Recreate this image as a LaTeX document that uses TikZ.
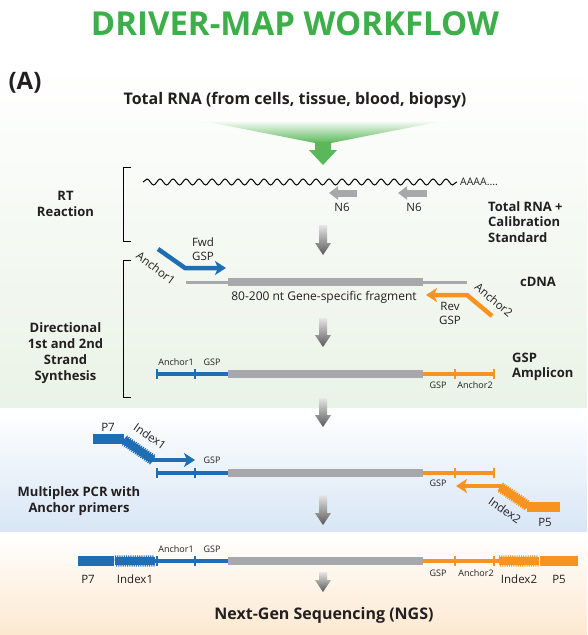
\documentclass[tikz,border=0pt]{standalone}
\usepackage{fontspec}
\setmainfont{Open Sans}
\usetikzlibrary{arrows.meta,decorations.pathmorphing,positioning}

\definecolor{titlegreen}{HTML}{3DAE49}
\definecolor{arrowgreen}{HTML}{5BB85A}
\definecolor{dnablue}{HTML}{1F6EB4}
\definecolor{dnaorange}{HTML}{F7931E}
\definecolor{genegray}{HTML}{A6A8AB}
\definecolor{greenbg}{HTML}{EAF3E7}
\definecolor{bluebg}{HTML}{D8E6F5}
\definecolor{orangebg}{HTML}{FCE8D0}
\definecolor{textdark}{HTML}{231F20}

\begin{document}
\begin{tikzpicture}[x=1pt,y=-1pt,
  every node/.style={text=textdark, inner sep=0pt},
  stage/.style={font=\bfseries\fontsize{13}{16}\selectfont, align=center},
  side/.style={font=\bfseries\fontsize{13}{15.5}\selectfont, align=left, anchor=west},
  tiny/.style={font=\fontsize{9}{10}\selectfont},
  lbl/.style={font=\fontsize{11.5}{14.5}\selectfont, align=center},
  big/.style={font=\fontsize{11.5}{13}\selectfont},
  strand/.style={line width=3.5pt},
  tickmark/.style={line width=1.8pt},
  gene/.style={genegray, line width=8pt},
  primer/.style={line width=4.5pt, -{Stealth[length=11pt,width=14pt,inset=3pt]}},
  adapter/.style={line width=10pt},
  index/.style={line width=8pt, postaction={draw, line width=0.9pt, decorate,
    decoration={zigzag, segment length=2.2pt, amplitude=5.5pt}}},
]
  \useasboundingbox (0,0) rectangle (587,635);
  \fill[white] (0,0) rectangle (587,635);

  % Panels
  \shade[top color=white, bottom color=greenbg] (0,62) rectangle (587,407);
  \shade[top color=white, bottom color=bluebg] (0,409) rectangle (587,531);
  \shade[top color=white, bottom color=orangebg] (0,534) rectangle (587,635);

  % Headings
  \node[font=\bfseries\fontsize{33}{36}\selectfont, text=titlegreen] (title) at (295,23.5) {DRIVER-MAP WORKFLOW};
  \node[font=\bfseries\fontsize{24}{26}\selectfont] (panel) at (25,83) {(A)};
  \node[font=\bfseries\fontsize{16}{18}\selectfont] (input) at (295,100) {Total RNA (from cells, tissue, blood, biopsy)};

  % Green funnel into the workflow
  \shade[top color=white, bottom color=arrowgreen]
    (198,120) -- (448,120) -- (331,143) -- (315,143) -- cycle;
  \fill[arrowgreen] (315,142) -- (331,142) -- (331,150) -- (337,150)
    -- (323,165) -- (309,150) -- (315,150) -- cycle;

  % Step arrows
  \foreach \ytop/\len in {225/30, 318/29, 398/29, 495/30, 572/20}
    \shade[top color=gray!20, bottom color=black!65]
      (319,\ytop) -- (327,\ytop) -- (327,\ytop+\len-12) -- (331,\ytop+\len-12)
      -- (323,\ytop+\len) -- (315,\ytop+\len-12) -- (319,\ytop+\len-12) -- cycle;

  % Brackets
  \draw[line width=0.8pt] (131,167) -- (123,167) -- (123,241) -- (131,241);
  \draw[line width=0.8pt] (131,260) -- (123,260) -- (123,397) -- (131,397);

  % RT reaction: RNA with random hexamers
  \node[stage] (rt) at (65.5,204) {RT\\Reaction};
  \draw[decorate, decoration={snake, segment length=13pt, amplitude=3pt}, line width=1pt]
    (143,182) -- (457,182);
  \node[font=\fontsize{10.5}{12}\selectfont, anchor=west] (polya) at (460,182) {AAAA....};
  \draw[genegray, line width=7pt, -{Triangle[length=9pt,width=13pt]}] (357,193) -- (329,193);
  \draw[genegray, line width=7pt, -{Triangle[length=9pt,width=13pt]}] (427,193) -- (398,193);
  \node[lbl] (n6a) at (342,207.5) {N6};
  \node[lbl] (n6b) at (414,207.5) {N6};
  \node[side] (rna) at (488,222) {Total RNA +\\Calibration\\Standard};

  % cDNA with gene-specific primers
  \draw[genegray, line width=3pt] (186,282) -- (467,282);
  \draw[gene] (228,282) -- (423,282);
  \draw[dnablue, primer] (158,249) -- (185,268) -- (226,268);
  \draw[dnaorange, primer] (492,316) -- (467,295) -- (426,295);
  \node[lbl] (fwd) at (203,249) {Fwd\\GSP};
  \node[lbl] (rev) at (450,313.5) {Rev\\GSP};
  \node[lbl, rotate=-37] (anc1) at (156,268) {Anchor1};
  \node[lbl, rotate=-40] (anc2) at (494,300) {Anchor2};
  \node[font=\fontsize{12}{14}\selectfont] (frag) at (324,297) {80-200 nt Gene-specific fragment};
  \node[stage] (cdna) at (538,282) {cDNA};

  % GSP amplicon and PCR template
  \foreach \y in {374,473} {
    \draw[dnablue, strand] (157,\y) -- (228,\y);
    \draw[dnablue, tickmark] (157,\y-5) -- (157,\y+5) (195,\y-5) -- (195,\y+5);
    \draw[gene] (228,\y) -- (423,\y);
    \draw[dnaorange, strand] (423,\y) -- (494,\y);
    \draw[dnaorange, tickmark] (455,\y-5) -- (455,\y+5) (494,\y-5) -- (494,\y+5);
  }
  \node[stage] (synth) at (65.5,353) {Directional\\1st and 2nd\\Strand\\Synthesis};
  \node[tiny] (ampa1) at (176,362) {Anchor1};
  \node[tiny] (ampg1) at (212,362) {GSP};
  \node[tiny] (ampg2) at (438,385) {GSP};
  \node[tiny] (ampa2) at (475,385) {Anchor2};
  \node[side] (amplicon) at (512,367) {GSP\\Amplicon};

  % Multiplex PCR with indexed anchor primers
  \draw[dnablue, adapter] (93,439) -- (124,439);
  \draw[dnablue, index] (124,440) -- (153,460);
  \draw[dnablue, primer] (152,460) -- (195,460);
  \draw[dnaorange, primer] (501,486) -- (456,486);
  \draw[dnaorange, index] (500,487) -- (528,506);
  \draw[dnaorange, adapter] (527,507) -- (560,507);
  \node[big] (p7a) at (108,427.5) {P7};
  \node[big, rotate=-35] (idx1a) at (150,436) {Index1};
  \node[tiny] (pcrg1) at (212,460.5) {GSP};
  \node[tiny] (pcrg2) at (438,483.5) {GSP};
  \node[big, rotate=-35] (idx2a) at (505,510) {Index2};
  \node[big] (p5a) at (545,522) {P5};
  \node[stage] (pcr) at (79,501.5) {Multiplex PCR with\\Anchor primers};

  % Final library
  \draw[dnablue, adapter] (78,561) -- (114,561);
  \draw[dnablue, index] (115,561) -- (155,561);
  \draw[dnablue, strand] (155,561) -- (228,561);
  \draw[dnablue, tickmark] (157,556) -- (157,566) (195,556) -- (195,566);
  \draw[gene] (228,561) -- (423,561);
  \draw[dnaorange, strand] (423,561) -- (499,561);
  \draw[dnaorange, tickmark] (455,556) -- (455,566) (494,556) -- (494,566);
  \draw[dnaorange, index] (499,561) -- (539,561);
  \draw[dnaorange, adapter] (540,561) -- (578,561);
  \node[tiny] (liba1) at (176,549.5) {Anchor1};
  \node[tiny] (libg1) at (212,549.5) {GSP};
  \node[tiny] (libg2) at (438,573.5) {GSP};
  \node[tiny] (liba2) at (476,573.5) {Anchor2};
  \node[big] (p7b) at (88,579.5) {P7};
  \node[big] (idx1b) at (135,579.5) {Index1};
  \node[big] (idx2b) at (519,579) {Index2};
  \node[big] (p5b) at (559,579) {P5};
  \node[font=\bfseries\fontsize{16}{18}\selectfont] (ngs) at (324,615) {Next-Gen Sequencing (NGS)};
\end{tikzpicture}
\end{document}
